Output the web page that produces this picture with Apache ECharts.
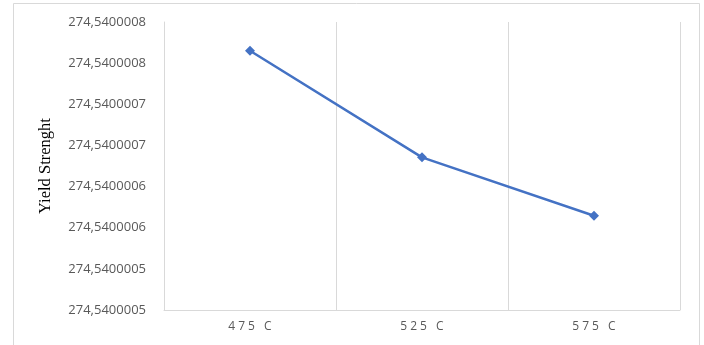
<!DOCTYPE html>
<html>
<head>
<meta charset="utf-8">
<script src="https://cdn.jsdelivr.net/npm/echarts@6/dist/echarts.min.js"></script>
<style>
  html, body { margin: 0; padding: 0; background: #fff; }
  #chart { width: 704px; height: 345px; }
</style>
</head>
<body>
<div id="chart"></div>
<script>
// Temperature categories and measured yield strength
const categories = ['475 C', '525 C', '575 C'];
const yieldStrength = [274.540000765, 274.5400006355, 274.5400005646];

// Value axis range (ticks every 0.00000005)
const yMin = 274.54000045;
const yMax = 274.54000080;
const yStep = 0.00000005;
const yBase = 274.54;

// Labels show 7 decimals with a decimal comma, rounded half up
function fmtY(v) {
  const units = Math.round((v - yBase) * 1e8);   // in 1e-8 steps
  const r = Math.round(units / 10);
  return '274,' + String(5400000 + r);
}

const chart = echarts.init(document.getElementById('chart'));
chart.setOption({
  animation: false,
  backgroundColor: '#ffffff',
  graphic: [{
    type: 'rect',
    shape: { x: 13.5, y: 3.5, width: 686, height: 360 },
    style: { fill: 'none', stroke: '#d9d9d9', lineWidth: 1 },
    silent: true
  }],
  grid: { left: 164, right: 24, top: 22, bottom: 35 },
  xAxis: {
    type: 'category',
    data: categories,
    boundaryGap: true,
    axisLine: { show: true, lineStyle: { color: '#d9d9d9', width: 1 } },
    axisTick: { show: false },
    splitLine: { show: true, lineStyle: { color: '#d9d9d9', width: 1 } },
    axisLabel: {
      color: '#595959',
      fontFamily: 'Open Sans',
      fontSize: 12,
      margin: 11,
      formatter: v => Array.from(v).join('\u2005')
    }
  },
  yAxis: {
    type: 'value',
    min: yMin,
    max: yMax,
    interval: yStep,
    name: 'Yield Strenght',
    nameLocation: 'middle',
    nameRotate: 90,
    nameGap: 110,
    nameTextStyle: { fontFamily: 'Liberation Serif', fontSize: 16.5, color: '#000' },
    axisLine: { show: true, lineStyle: { color: '#d9d9d9', width: 1 } },
    axisTick: { show: false },
    splitLine: { show: false },
    axisLabel: {
      color: '#595959',
      fontFamily: 'Open Sans',
      fontSize: 13,
      margin: 18,
      formatter: fmtY
    }
  },
  series: [{
    type: 'line',
    data: yieldStrength,
    symbol: 'diamond',
    symbolSize: 10,
    lineStyle: { color: '#4472C4', width: 2.5 },
    itemStyle: { color: '#4472C4' }
  }]
});
</script>
</body>
</html>
